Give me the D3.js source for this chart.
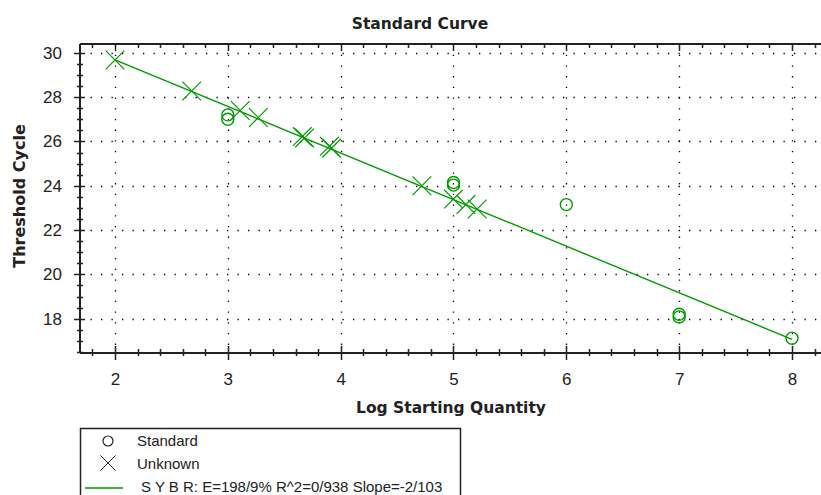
<!DOCTYPE html>
<html>
<head>
<meta charset="utf-8">
<script src="https://cdn.jsdelivr.net/npm/d3@7"></script>
<style>
  body { margin: 0; background: #fff; }
  svg { display: block; }
</style>
</head>
<body>
<svg id="chart" width="821" height="495"></svg>
<script>
// standards (circles)
var stdX = [3, 3, 5, 5, 6, 7, 7, 8]
var stdY = [27.2, 27.0, 24.15, 24.03, 23.15, 18.2, 18.08, 17.12]
// unknowns (crosses)
var unkX = [2.0, 2.68, 3.11, 3.27, 3.66, 3.68, 3.9, 3.92, 4.72, 5.0, 5.11, 5.21]
var unkY = [29.68, 28.28, 27.4, 27.08, 26.22, 26.16, 25.78, 25.7, 24.0, 23.4, 23.15, 22.95]
// fitted standard curve
var fitSlope = -2.103
var fitIntercept = 33.89
var fitRange = [2, 8]
var xTicks = [2, 3, 4, 5, 6, 7, 8]
var yTicks = [18, 20, 22, 24, 26, 28, 30]
var legendLabels = ["Standard", "Unknown", "S Y B R:  E=198/9%  R^2=0/938  Slope=-2/103"]

var green = "#009a00"
var svg = d3.select("#chart")
var pL = 80, pR = 821, pT = 44, pB = 353

var x = d3.scaleLinear().domain([1.69, 8.257]).range([pL, pR])
var y = d3.scaleLinear().domain([16.45, 30.4]).range([pB, pT])

var xMinor = d3.range(18, 83, 2).map(function(d){ return d / 10 })
var yMinor = d3.range(33, 61, 1).map(function(d){ return d / 2 })
var isMajorX = function(d){ return xTicks.indexOf(Math.round(d * 10) / 10) >= 0 }

// dotted grid
svg.append("g").selectAll("line").data(yTicks).enter().append("line")
  .attr("x1", pL).attr("x2", pR)
  .attr("y1", function(d){ return Math.round(y(d)) + 0.5 }).attr("y2", function(d){ return Math.round(y(d)) + 0.5 })
  .attr("stroke", "#000").attr("stroke-width", 1.3).attr("stroke-dasharray", "1.3,9.2")
svg.append("g").selectAll("line").data(xTicks).enter().append("line")
  .attr("y1", pT).attr("y2", pB)
  .attr("x1", function(d){ return Math.round(x(d)) + 0.5 }).attr("x2", function(d){ return Math.round(x(d)) + 0.5 })
  .attr("stroke", "#000").attr("stroke-width", 1.3).attr("stroke-dasharray", "1.3,9.4")

// bottom axis, ticks crossing the line
var gx = svg.append("g").attr("transform", "translate(0," + pB + ")")
gx.append("line").attr("x1", pL).attr("x2", pR).attr("stroke", "#222").attr("stroke-width", 2)
gx.selectAll(".minor").data(xMinor).enter().append("line")
  .attr("x1", function(d){ return Math.round(x(d)) + 0.5 }).attr("x2", function(d){ return Math.round(x(d)) + 0.5 })
  .attr("y1", function(d){ return isMajorX(d) ? -7 : -4 })
  .attr("y2", function(d){ return isMajorX(d) ? 7 : 3 })
  .attr("stroke", "#222").attr("stroke-width", 1.5)
var xAxis = d3.axisBottom(x).tickValues(xTicks).tickSize(0).tickPadding(20).tickFormat(d3.format("d"))
var gxl = svg.append("g").attr("transform", "translate(0," + pB + ")").call(xAxis)
gxl.select(".domain").remove()
gxl.selectAll("text").attr("font-family", "Liberation Sans, Arial, sans-serif").attr("font-size", "17px").attr("fill", "#222")

// top border with ticks pointing down
var gt = svg.append("g").attr("transform", "translate(0," + pT + ")")
gt.append("line").attr("x1", pL).attr("x2", pR).attr("stroke", "#222").attr("stroke-width", 2)
gt.selectAll(".minor").data(xMinor).enter().append("line")
  .attr("x1", function(d){ return Math.round(x(d)) + 0.5 }).attr("x2", function(d){ return Math.round(x(d)) + 0.5 })
  .attr("y1", 0)
  .attr("y2", function(d){ return isMajorX(d) ? 7 : 4 })
  .attr("stroke", "#222").attr("stroke-width", 1.5)

// left axis
var gy = svg.append("g").attr("transform", "translate(" + pL + ",0)")
gy.append("line").attr("y1", pT).attr("y2", pB).attr("stroke", "#222").attr("stroke-width", 2)
gy.selectAll(".minor").data(yMinor).enter().append("line")
  .attr("y1", function(d){ return Math.round(y(d)) + 0.5 }).attr("y2", function(d){ return Math.round(y(d)) + 0.5 })
  .attr("x1", function(d){ return yTicks.indexOf(d) >= 0 ? -6 : -3 })
  .attr("x2", function(d){ return yTicks.indexOf(d) >= 0 ? 5 : 3 })
  .attr("stroke", "#222").attr("stroke-width", 1.5)
var yAxis = d3.axisLeft(y).tickValues(yTicks).tickSize(0).tickPadding(18).tickFormat(d3.format("d"))
var gyl = svg.append("g").attr("transform", "translate(" + pL + ",0)").call(yAxis)
gyl.select(".domain").remove()
gyl.selectAll("text").attr("font-family", "Liberation Sans, Arial, sans-serif").attr("font-size", "17px").attr("fill", "#222")

// fit line
svg.append("line")
  .attr("x1", x(fitRange[0])).attr("y1", y(fitIntercept + fitSlope * fitRange[0]))
  .attr("x2", x(fitRange[1])).attr("y2", y(fitIntercept + fitSlope * fitRange[1]))
  .attr("stroke", green).attr("stroke-width", 1.4)

// standards
svg.append("g").selectAll("circle").data(stdX).enter().append("circle")
  .attr("cx", function(d){ return x(d) }).attr("cy", function(d, i){ return y(stdY[i]) })
  .attr("r", 6).attr("fill", "none").attr("stroke", green).attr("stroke-width", 1.4)

// unknowns
var cross = d3.symbol().type(d3.symbolX).size(230)
svg.append("g").selectAll("path").data(unkX).enter().append("path")
  .attr("d", cross)
  .attr("transform", function(d, i){ return "translate(" + x(d) + "," + y(unkY[i]) + ")" })
  .attr("fill", "none").attr("stroke", green).attr("stroke-width", 1.2)

// titles
svg.append("text").text("Standard Curve").attr("x", 420).attr("y", 29)
  .attr("text-anchor", "middle").attr("font-family", "DejaVu Sans").attr("font-weight", "bold")
  .attr("font-size", "15.5px").attr("fill", "#222")
svg.append("text").text("Log Starting Quantity").attr("x", 451).attr("y", 413)
  .attr("text-anchor", "middle").attr("font-family", "DejaVu Sans").attr("font-weight", "bold")
  .attr("font-size", "15.5px").attr("fill", "#222")
svg.append("text").text("Threshold Cycle").attr("transform", "translate(25,196) rotate(-90)")
  .attr("text-anchor", "middle").attr("font-family", "DejaVu Sans").attr("font-weight", "bold")
  .attr("font-size", "16px").attr("fill", "#222")

// legend
var lg = svg.append("g")
lg.append("rect").attr("x", 80.5).attr("y", 428.5).attr("width", 380).attr("height", 80)
  .attr("fill", "#fff").attr("stroke", "#222").attr("stroke-width", 1.5)
lg.append("circle").attr("cx", 108).attr("cy", 441).attr("r", 5).attr("fill", "none").attr("stroke", "#222").attr("stroke-width", 1.2)
lg.append("path").attr("d", d3.symbol().type(d3.symbolX).size(150))
  .attr("transform", "translate(108,463)").attr("fill", "none").attr("stroke", "#222").attr("stroke-width", 1)
lg.append("line").attr("x1", 85).attr("x2", 123).attr("y1", 488).attr("y2", 488).attr("stroke", green).attr("stroke-width", 1.5)
lg.selectAll("text").data(legendLabels).enter().append("text")
  .text(function(d){ return d })
  .attr("x", function(d, i){ return i < 2 ? 137 : 141 })
  .attr("y", function(d, i){ return 446 + i * 23 })
  .attr("font-family", "Liberation Sans, Arial, sans-serif").attr("font-size", "15px").attr("fill", "#222")
</script>
</body>
</html>
